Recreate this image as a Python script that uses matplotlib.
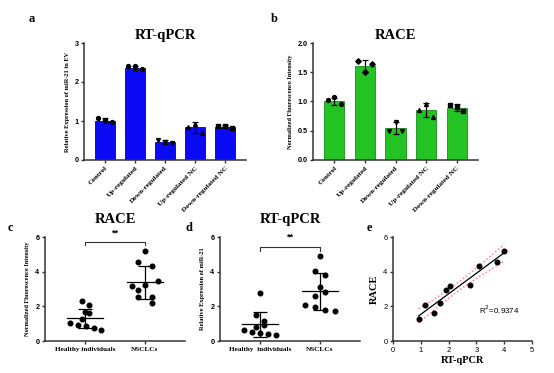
import numpy as np
import matplotlib
matplotlib.use("Agg")
import matplotlib.pyplot as plt

# ---------------- data ----------------
bar_categories = ["Control", "Up-regulated", "Down-regulated", "Up-regulated NC", "Down-regulated NC"]

a_means = [1.01, 2.36, 0.46, 0.84, 0.85]
a_sd = [0.06, 0.05, 0.04, 0.14, 0.04]
a_points = [[1.08, 1.02, 0.97], [2.41, 2.40, 2.33], [0.50, 0.47, 0.43],
            [0.85, 0.92, 0.70], [0.88, 0.86, 0.81]]

b_means = [1.00, 1.61, 0.55, 0.86, 0.89]
b_sd = [0.06, 0.10, 0.10, 0.12, 0.06]
b_points = [[1.02, 1.07, 0.95], [1.69, 1.51, 1.64], [0.50, 0.65, 0.50],
            [0.86, 0.96, 0.74], [0.94, 0.91, 0.83]]

group_labels_c = ["Healthy individuals", "NSCLCs"]
group_labels_d = ["Healthy  individuals", "NSCLCs"]

c_healthy = [2.28, 2.05, 1.66, 1.62, 1.27, 1.02, 0.95, 0.87, 0.77, 0.66]
c_healthy_jit = [-0.056, 0.072, 0.0, 0.072, -0.056, -0.25, -0.122, 0.017, 0.144, 0.272]
c_nsclc = [5.19, 4.56, 4.32, 3.49, 3.24, 3.15, 2.93, 2.55, 2.51, 2.18]
c_nsclc_jit = [0.0, -0.111, 0.111, 0.222, 0.0, -0.222, -0.111, 0.111, -0.111, 0.111]
c_mean = [1.31, 3.40]
c_sd = [0.55, 0.95]

d_healthy = [2.76, 1.50, 1.16, 0.95, 0.83, 0.64, 0.54, 0.44, 0.41, 0.37]
d_healthy_jit = [0.0, -0.067, 0.072, 0.072, -0.067, -0.261, -0.133, 0.0, 0.128, 0.267]
d_nsclc = [4.90, 4.05, 3.80, 3.13, 2.82, 2.57, 2.08, 1.95, 1.78, 1.72]
d_nsclc_jit = [0.0, -0.083, 0.083, 0.0, 0.083, -0.083, -0.25, -0.083, 0.083, 0.25]
d_mean = [0.97, 2.87]
d_sd = [0.72, 1.08]

e_rtqpcr = [0.92, 1.16, 1.49, 1.68, 1.92, 2.06, 2.78, 3.09, 3.74, 4.00]
e_race = [1.29, 2.06, 1.63, 2.19, 2.94, 3.17, 3.25, 4.31, 4.58, 5.17]
e_r2_text = "R$^2$=0.9374"

# ---------------- style ----------------
W, H = 554, 373
fig = plt.figure(figsize=(W / 100, H / 100), dpi=100)
SERIF = "Liberation Serif"
SANS = "Liberation Sans"
SPINE = "#333333"


def ax_px(l, r, top, bot):
    return fig.add_axes([l / W, (H - bot) / H, (r - l) / W, (bot - top) / H])


def style(ax):
    for s in ["top", "right"]:
        ax.spines[s].set_visible(False)
    for s in ["left", "bottom"]:
        ax.spines[s].set_linewidth(1.1)
        ax.spines[s].set_color(SPINE)
    ax.tick_params(length=2.5, width=1.0, color=SPINE, pad=1.5, labelsize=5.2)
    for t in ax.get_yticklabels():
        t.set_fontfamily(SANS)
        t.set_fontweight("bold")


offs = [-0.22, 0.0, 0.22]


def bar_panel(ax, means, sd, pts, color, edge, markers, ylim, yticks, fmt, ylabel, title):
    x = np.arange(len(means))
    ax.bar(x, means, width=0.66, color=color, edgecolor=edge, linewidth=0.6, zorder=1)
    ax.errorbar(x, means, yerr=sd, fmt="none", ecolor="black", elinewidth=0.9,
                capsize=2.5, capthick=0.9, zorder=3)
    for i, p in enumerate(pts):
        ax.plot([x[i] + o for o in offs], p, linestyle="none", marker=markers[i],
                color="black", markersize=2.8, zorder=4)
    ax.set_xlim(-0.7, 4.7)
    ax.set_ylim(*ylim)
    ax.set_yticks(yticks)
    ax.set_yticklabels([fmt.format(v) for v in yticks])
    ax.set_xticks(x)
    ax.set_xticklabels(bar_categories, rotation=45, ha="right", rotation_mode="anchor",
                       fontfamily=SERIF, fontweight="bold", fontsize=5.2)
    style(ax)
    ax.set_ylabel(ylabel, fontfamily=SERIF, fontweight="bold", fontsize=4.6, labelpad=3)
    ax.set_title(title, fontfamily=SERIF, fontweight="bold", fontsize=10.5, pad=3)


# panel a
axa = ax_px(84, 246, 43, 160)
bar_panel(axa, a_means, a_sd, a_points, "#0a0af5", "#0000b0", ["o", "o", "v", "^", "s"],
          (0, 3), [0, 1, 2, 3], "{:.0f}", "Relative Expression of miR-21 in EV", "RT-qPCR")

# panel b
axb = ax_px(313, 478, 43, 160)
bar_panel(axb, b_means, b_sd, b_points, "#22c322", "#15901a", ["o", "D", "v", "^", "s"],
          (0, 2), [0, 0.5, 1.0, 1.5, 2.0], "{:.1f}", "Normalized Fluorescence Intensity", "RACE")


def dot_panel(ax, h, hj, n, nj, mean, sd, labels, ylabel, title, br_y, br_drop, star_y):
    ax.plot([0 + j for j in hj], h, "o", color="black", markersize=3.3, zorder=3)
    ax.plot([1 + j for j in nj], n, "o", color="black", markersize=3.3, zorder=3)
    for i in range(2):
        ax.plot([i - 0.3, i + 0.3], [mean[i]] * 2, color="black", lw=0.9)
        ax.errorbar([i], [mean[i]], yerr=[sd[i]], fmt="none", ecolor="black",
                    elinewidth=0.9, capsize=5, capthick=0.9)
    ax.plot([0, 0, 1, 1], [br_y - br_drop, br_y, br_y, br_y - br_drop], color="#333333",
            lw=0.8, clip_on=False)
    ax.text(0.5, star_y, "**", ha="center", va="center", fontsize=6.5,
            fontfamily=SANS, fontweight="bold", clip_on=False)
    ax.set_xlim(-0.67, 1.67)
    ax.set_ylim(0, 6)
    ax.set_yticks([0, 2, 4, 6])
    ax.set_xticks([0, 1])
    ax.set_xticklabels(labels, fontfamily=SERIF, fontweight="bold", fontsize=5.8)
    style(ax)
    ax.set_ylabel(ylabel, fontfamily=SERIF, fontweight="bold", fontsize=4.6, labelpad=4)
    ax.set_title(title, fontfamily=SERIF, fontweight="bold", fontsize=10.5, pad=10)


axc = ax_px(45, 185, 237, 341)
dot_panel(axc, c_healthy, c_healthy_jit, c_nsclc, c_nsclc_jit, c_mean, c_sd,
          group_labels_c, "Normalized Fluorescence Intensity", "RACE", 5.71, 0.15, 6.2)

axd = ax_px(220, 360, 237, 341)
dot_panel(axd, d_healthy, d_healthy_jit, d_nsclc, d_nsclc_jit, d_mean, d_sd,
          group_labels_d, "Relative Expression of miR-21", "RT-qPCR", 5.42, 0.2, 6.0)

# panel e
axe = ax_px(393, 532, 237, 341)
xe = np.array(e_rtqpcr)
ye = np.array(e_race)
slope, icpt = np.polyfit(xe, ye, 1)
xs = np.linspace(xe.min(), xe.max(), 50)
fit = slope * xs + icpt
nobs = len(xe)
resid = ye - (slope * xe + icpt)
s = np.sqrt(np.sum(resid ** 2) / (nobs - 2))
se = s * np.sqrt(1 / nobs + (xs - xe.mean()) ** 2 / np.sum((xe - xe.mean()) ** 2))
tval = 2.306
axe.plot(xs, fit, color="black", lw=0.9, zorder=2)
axe.plot(xs, fit + tval * se, color="#ff7fa0", lw=1.1, ls=(0, (1, 1.5)), zorder=2)
axe.plot(xs, fit - tval * se, color="#ff7fa0", lw=1.1, ls=(0, (1, 1.5)), zorder=2)
axe.plot(xe, ye, "o", color="black", markersize=3.3, zorder=3)
axe.set_xlim(0, 5)
axe.set_ylim(0, 6)
axe.set_xticks([0, 1, 2, 3, 4, 5])
axe.set_yticks([0, 2, 4, 6])
style(axe)
for t in axe.get_xticklabels():
    t.set_fontfamily(SANS)
axe.tick_params(labelsize=5.5)
for t in axe.get_yticklabels():
    t.set_fontweight("normal")
axe.set_xlabel("RT-qPCR", fontfamily=SERIF, fontweight="bold", fontsize=7.5, labelpad=2)
axe.set_ylabel("RACE", fontfamily=SERIF, fontweight="bold", fontsize=7.5, labelpad=3)
axe.text(3.1, 1.8, e_r2_text, fontfamily=SANS, fontsize=5.8, va="center", ha="left")

# panel letters
for lab, x, y in [("a", 32, 19), ("b", 274, 19), ("c", 10, 228), ("d", 189, 228), ("e", 369, 228)]:
    fig.text(x / W, 1 - y / H, lab, fontfamily=SERIF, fontweight="bold", fontsize=9,
             ha="center", va="center")

fig.savefig("out.png", dpi=100)
